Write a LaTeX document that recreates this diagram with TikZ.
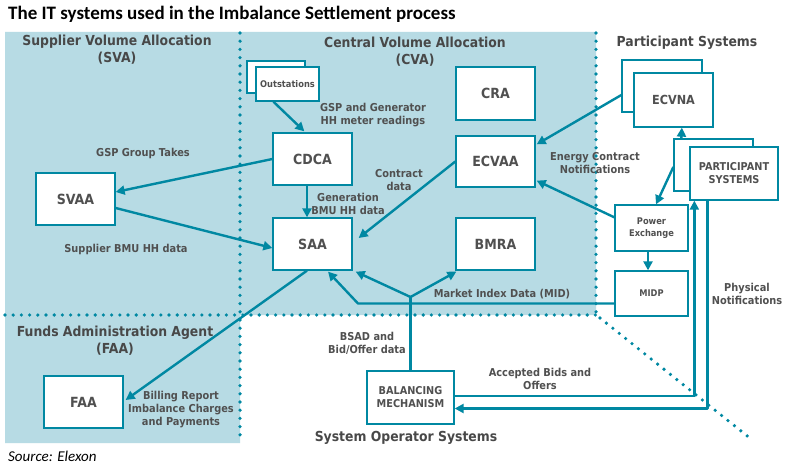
\documentclass[tikz,border=0pt]{standalone}
\usepackage{fontspec}
\usetikzlibrary{arrows.meta,calc}
\newfontfamily\vfont{DejaVu Sans}[FakeStretch=0.9]
\newfontfamily\clfont{Carlito}
\definecolor{tealc}{RGB}{0,136,162}
\definecolor{bgblue}{RGB}{183,219,228}
\definecolor{txtgray}{RGB}{80,80,80}
\definecolor{headgray}{RGB}{72,72,72}
\begin{document}
\begin{tikzpicture}[x=1pt,y=-1pt,
  box/.style={draw=tealc, line width=1.3pt, fill=white, text=txtgray, inner sep=0pt,
    align=center, font=\vfont\bfseries\fontsize{14}{15}\selectfont},
  smallbox/.style={box, font=\vfont\bfseries\fontsize{10.8}{13}\selectfont},
  tinybox/.style={box, font=\vfont\bfseries\fontsize{9.2}{11.5}\selectfont},
  conn/.style={draw=tealc, line width=2.4pt, line join=round},
  arr/.style={conn, -{Triangle[length=9pt,width=9pt]}},
  lbl/.style={text=txtgray, align=center, inner sep=0pt, font=\vfont\bfseries\fontsize{10.9}{13}\selectfont},
  head/.style={text=headgray, align=center, inner sep=0pt, font=\vfont\bfseries\fontsize{13.8}{17}\selectfont},
  dots/.style={draw=tealc, line width=3.6pt, line cap=round, dash pattern=on 0pt off 8.2pt}
]
\useasboundingbox (0,0) rectangle (792,470);
\fill[white] (0,0) rectangle (792,470);
% background regions
\fill[bgblue] (5,32) -- (596,32) -- (596,315) -- (240,315) -- (240,443) -- (5,443) -- cycle;
% dotted borders
\draw[dots] (240,33) -- (240,440);
\draw[dots] (596,33) -- (596,315);
\draw[dots] (5,315) -- (596,315);
\draw[dots] (600,318) -- (751,439);

% title and source
\node[anchor=west, inner sep=0pt, font=\clfont\bfseries\fontsize{19}{22}\selectfont] (title) at (8,14) {The IT systems used in the Imbalance Settlement process};
\node[anchor=west, inner sep=0pt, font=\clfont\itshape\fontsize{15}{18}\selectfont] (src) at (8,456) {Source: Elexon};

% headings
\node[head] (hsva) at (117,50) {Supplier Volume Allocation\\(SVA)};
\node[head] (hcva) at (415,52) {Central Volume Allocation\\(CVA)};
\node[head] (hps) at (687,43) {Participant Systems};
\node[head] (hfaa) at (115,341) {Funds Administration Agent\\(FAA)};
\node[head] (hsos) at (406,438) {System Operator Systems};

% boxes
\node[box, minimum width=58pt, minimum height=32pt] (outB) at (276,77) {};
\node[tinybox, minimum width=63pt, minimum height=34pt] (out) at (287.5,84) {Outstations};
\node[box, minimum width=79pt, minimum height=52pt] (cdca) at (312.5,159) {CDCA};
\node[box, minimum width=79pt, minimum height=53pt] (cra) at (495.5,93.5) {CRA};
\node[box, minimum width=79pt, minimum height=51pt] (ecvaa) at (495.5,161.5) {ECVAA};
\node[box, minimum width=79pt, minimum height=52pt] (saa) at (312.5,244) {SAA};
\node[box, minimum width=79pt, minimum height=52pt] (bmra) at (495.5,244) {BMRA};
\node[box, minimum width=79pt, minimum height=52pt] (svaa) at (75.5,199) {SVAA};
\node[box, minimum width=79pt, minimum height=52pt] (faa) at (83.5,402) {FAA};
\node[smallbox, minimum width=87pt, minimum height=53pt] (bm) at (410.5,397.5) {BALANCING\\MECHANISM};
\node[box, minimum width=80pt, minimum height=52pt] (ecvnaB) at (662,86) {};
\node[box, minimum width=79pt, minimum height=54pt, font=\vfont\bfseries\fontsize{12.5}{15}\selectfont] (ecvna) at (673.5,100) {ECVNA};
\node[box, minimum width=79pt, minimum height=52pt] (partB) at (713.5,165) {};
\node[smallbox, minimum width=88pt, minimum height=53pt] (part) at (734,173.5) {PARTICIPANT\\SYSTEMS};
\node[tinybox, minimum width=73pt, minimum height=46pt] (px) at (651.5,228) {Power\\Exchange};
\node[tinybox, minimum width=73pt, minimum height=45pt] (midp) at (651.5,293.5) {MIDP};

% connectors
\draw[arr] ($(out.south west)+(18,0)$) -- ($(cdca.north west)+(32,-1)$);
\draw[arr] (cdca.west) -- ($(svaa.east)+(0,-7)$);
\draw[arr] ($(svaa.east)+(0,9)$) -- ($(saa.west)+(0,4)$);
\draw[arr] ($(cdca.south)+(-5.5,0)$) -- ($(saa.north)+(-5.5,0)$);
\draw[arr] (ecvaa.west) -- ($(saa.east)+(6,-6)$);
\draw[arr] ($(ecvnaB.west)+(0,9)$) -- ($(ecvaa.north east)+(1,9)$);
\draw[arr] ($(px.north west)+(0,13)$) -- ($(ecvaa.south east)+(1,-7)$);
\draw[arr] ($(partB.north west)+(8,0)$) -- ($(ecvna.south west)+(48.5,0)$);
\draw[arr] ($(partB.west)+(0,2)$) -- ($(px.north)+(4.5,0)$);
\draw[arr] ($(px.south)+(-3.5,0)$) -- ($(midp.north)+(-3.5,0)$);
% MID
\coordinate (mbend) at (358,303.5);
\coordinate (junc) at (410.5,297);
\draw[arr] ($(midp.west)+(0,10)$) -- (mbend) -- ($(saa.south)+(15.5,1)$);
\draw[conn] (bm.north) -- (junc);
\draw[arr] (junc) -- ($(saa.south east)+(3,1)$);
\draw[arr] (junc) -- ($(bmra.south west)+(1,1)$);
% billing
\draw[arr] ($(saa.south)+(-5.5,0)$) -- ($(faa.east)+(2,-2)$);
% accepted bids and physical notifications
\draw[arr] ($(bm.east)+(0,-1.5)$) -| ($(part.south west)+(5,0)$);
\draw[arr] ($(part.south west)+(18,0)$) |- ($(bm.east)+(0,11)$);

% labels
\node[lbl] (l1) at (373,115.5) {GSP and Generator\\HH meter readings};
\node[lbl] (l2) at (143,153) {GSP Group Takes};
\node[lbl] (l3) at (126,249) {Supplier BMU HH data};
\node[lbl] (l4) at (348,203.5) {Generation\\BMU HH data};
\node[lbl] (l5) at (399,180.5) {Contract\\data};
\node[lbl] (l6) at (595,163.5) {Energy Contract\\Notifications};
\node[lbl] (l7) at (502,294) {Market Index Data (MID)};
\node[lbl] (l8) at (367,343.5) {BSAD and\\Bid/Offer data};
\node[lbl] (l9) at (181,410) {Billing Report\\Imbalance Charges\\and Payments};
\node[lbl] (l10) at (540,379) {Accepted Bids and\\Offers};
\node[lbl] (l11) at (747,294) {Physical\\Notifications};
\end{tikzpicture}
\end{document}
